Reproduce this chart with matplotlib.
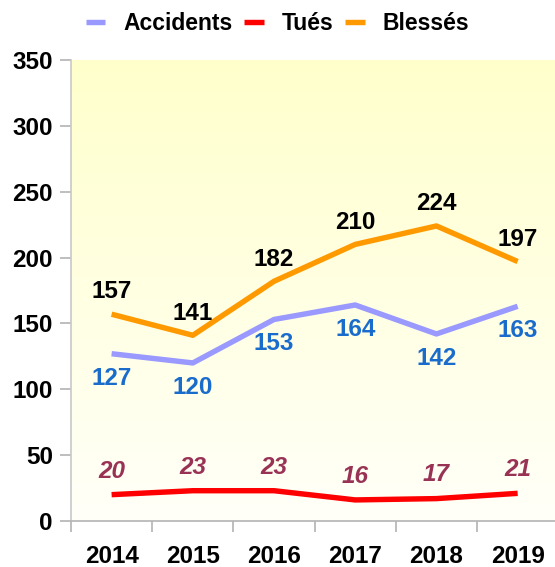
import matplotlib
matplotlib.use("Agg")
import matplotlib.pyplot as plt
import numpy as np
from matplotlib.lines import Line2D

years = ["2014", "2015", "2016", "2017", "2018", "2019"]
accidents = [127, 120, 153, 164, 142, 163]
tues = [20, 23, 23, 16, 17, 21]
blesses = [157, 141, 182, 210, 224, 197]

plt.rcParams['font.family'] = ['Liberation Sans', 'DejaVu Sans']

fig = plt.figure(figsize=(5.55, 5.67), dpi=100)
ax = fig.add_axes([71/555, 1-521/567, 1-71/555, (521-60)/567])

x = np.arange(len(years))
ax.set_xlim(-0.5, 5.46)
ax.set_ylim(0, 350)

# gradient background
grad = np.linspace(0, 1, 256).reshape(-1, 1)
top = np.array([1.0, 1.0, 0.80])
bot = np.array([1.0, 1.0, 0.975])
img = bot + (top - bot) * grad
ax.imshow(img[:, None, :].repeat(2, axis=1), extent=[-0.5, 5.46, 0, 350], origin='lower',
          aspect='auto', zorder=0)

c_acc = '#9999ff'
c_tue = '#ff0000'
c_ble = '#ff9900'
lw = 3.9
ax.plot(x, accidents, color=c_acc, lw=lw, zorder=3, solid_capstyle='butt')
ax.plot(x, tues, color=c_tue, lw=lw, zorder=3, solid_capstyle='butt')
ax.plot(x, blesses, color=c_ble, lw=lw, zorder=3, solid_capstyle='butt')

fs = 17.5
for i in range(len(years)):
    ax.annotate(str(blesses[i]), (x[i], blesses[i]), xytext=(0, 16), textcoords='offset points',
                ha='center', va='center', fontsize=fs, fontweight='bold', color='black', zorder=4)
    ax.annotate(str(accidents[i]), (x[i], accidents[i]), xytext=(0, -17.5), textcoords='offset points',
                ha='center', va='center', fontsize=fs, fontweight='bold', color='#1a6ccc', zorder=4)
    ax.annotate(str(tues[i]), (x[i], tues[i]), xytext=(0, 17), textcoords='offset points',
                ha='center', va='center', fontsize=fs, fontweight='bold', fontstyle='italic',
                color='#993355', zorder=4)

ax.set_yticks(np.arange(0, 351, 50))
ax.set_yticklabels([str(v) for v in range(0, 351, 50)], fontsize=fs, fontweight='bold')
ax.set_xticks(x)
ax.set_xticklabels(years, fontsize=fs, fontweight='bold')
ax.set_xticks(np.arange(-0.5, 5.5, 1), minor=True)
ax.tick_params(axis='x', which='major', length=0, pad=17)
ax.tick_params(axis='x', which='minor', length=8, color='#b3b3b3', width=1.2)
ax.tick_params(axis='y', length=8, color='#b3b3b3', width=1.2, pad=5)

for s in ['top', 'right']:
    ax.spines[s].set_visible(False)
ax.spines['left'].set_color('#c8c8c8')
ax.spines['bottom'].set_color('#b3b3b3')
ax.spines['left'].set_linewidth(1.2)
ax.spines['bottom'].set_linewidth(1.2)

handles = [Line2D([], [], color=c, lw=lw, solid_capstyle='butt') for c in (c_acc, c_tue, c_ble)]
fig.legend(handles, ['Accidents', 'Tués', 'Blessés'], loc='center', bbox_to_anchor=(0.5, 1-24/567),
           ncol=3, frameon=False, prop={'size': 16.5, 'weight': 'bold'},
           handlelength=0.85, handletextpad=0.8, columnspacing=0.5, borderpad=0, borderaxespad=0)

fig.savefig('out.png', dpi=100)
